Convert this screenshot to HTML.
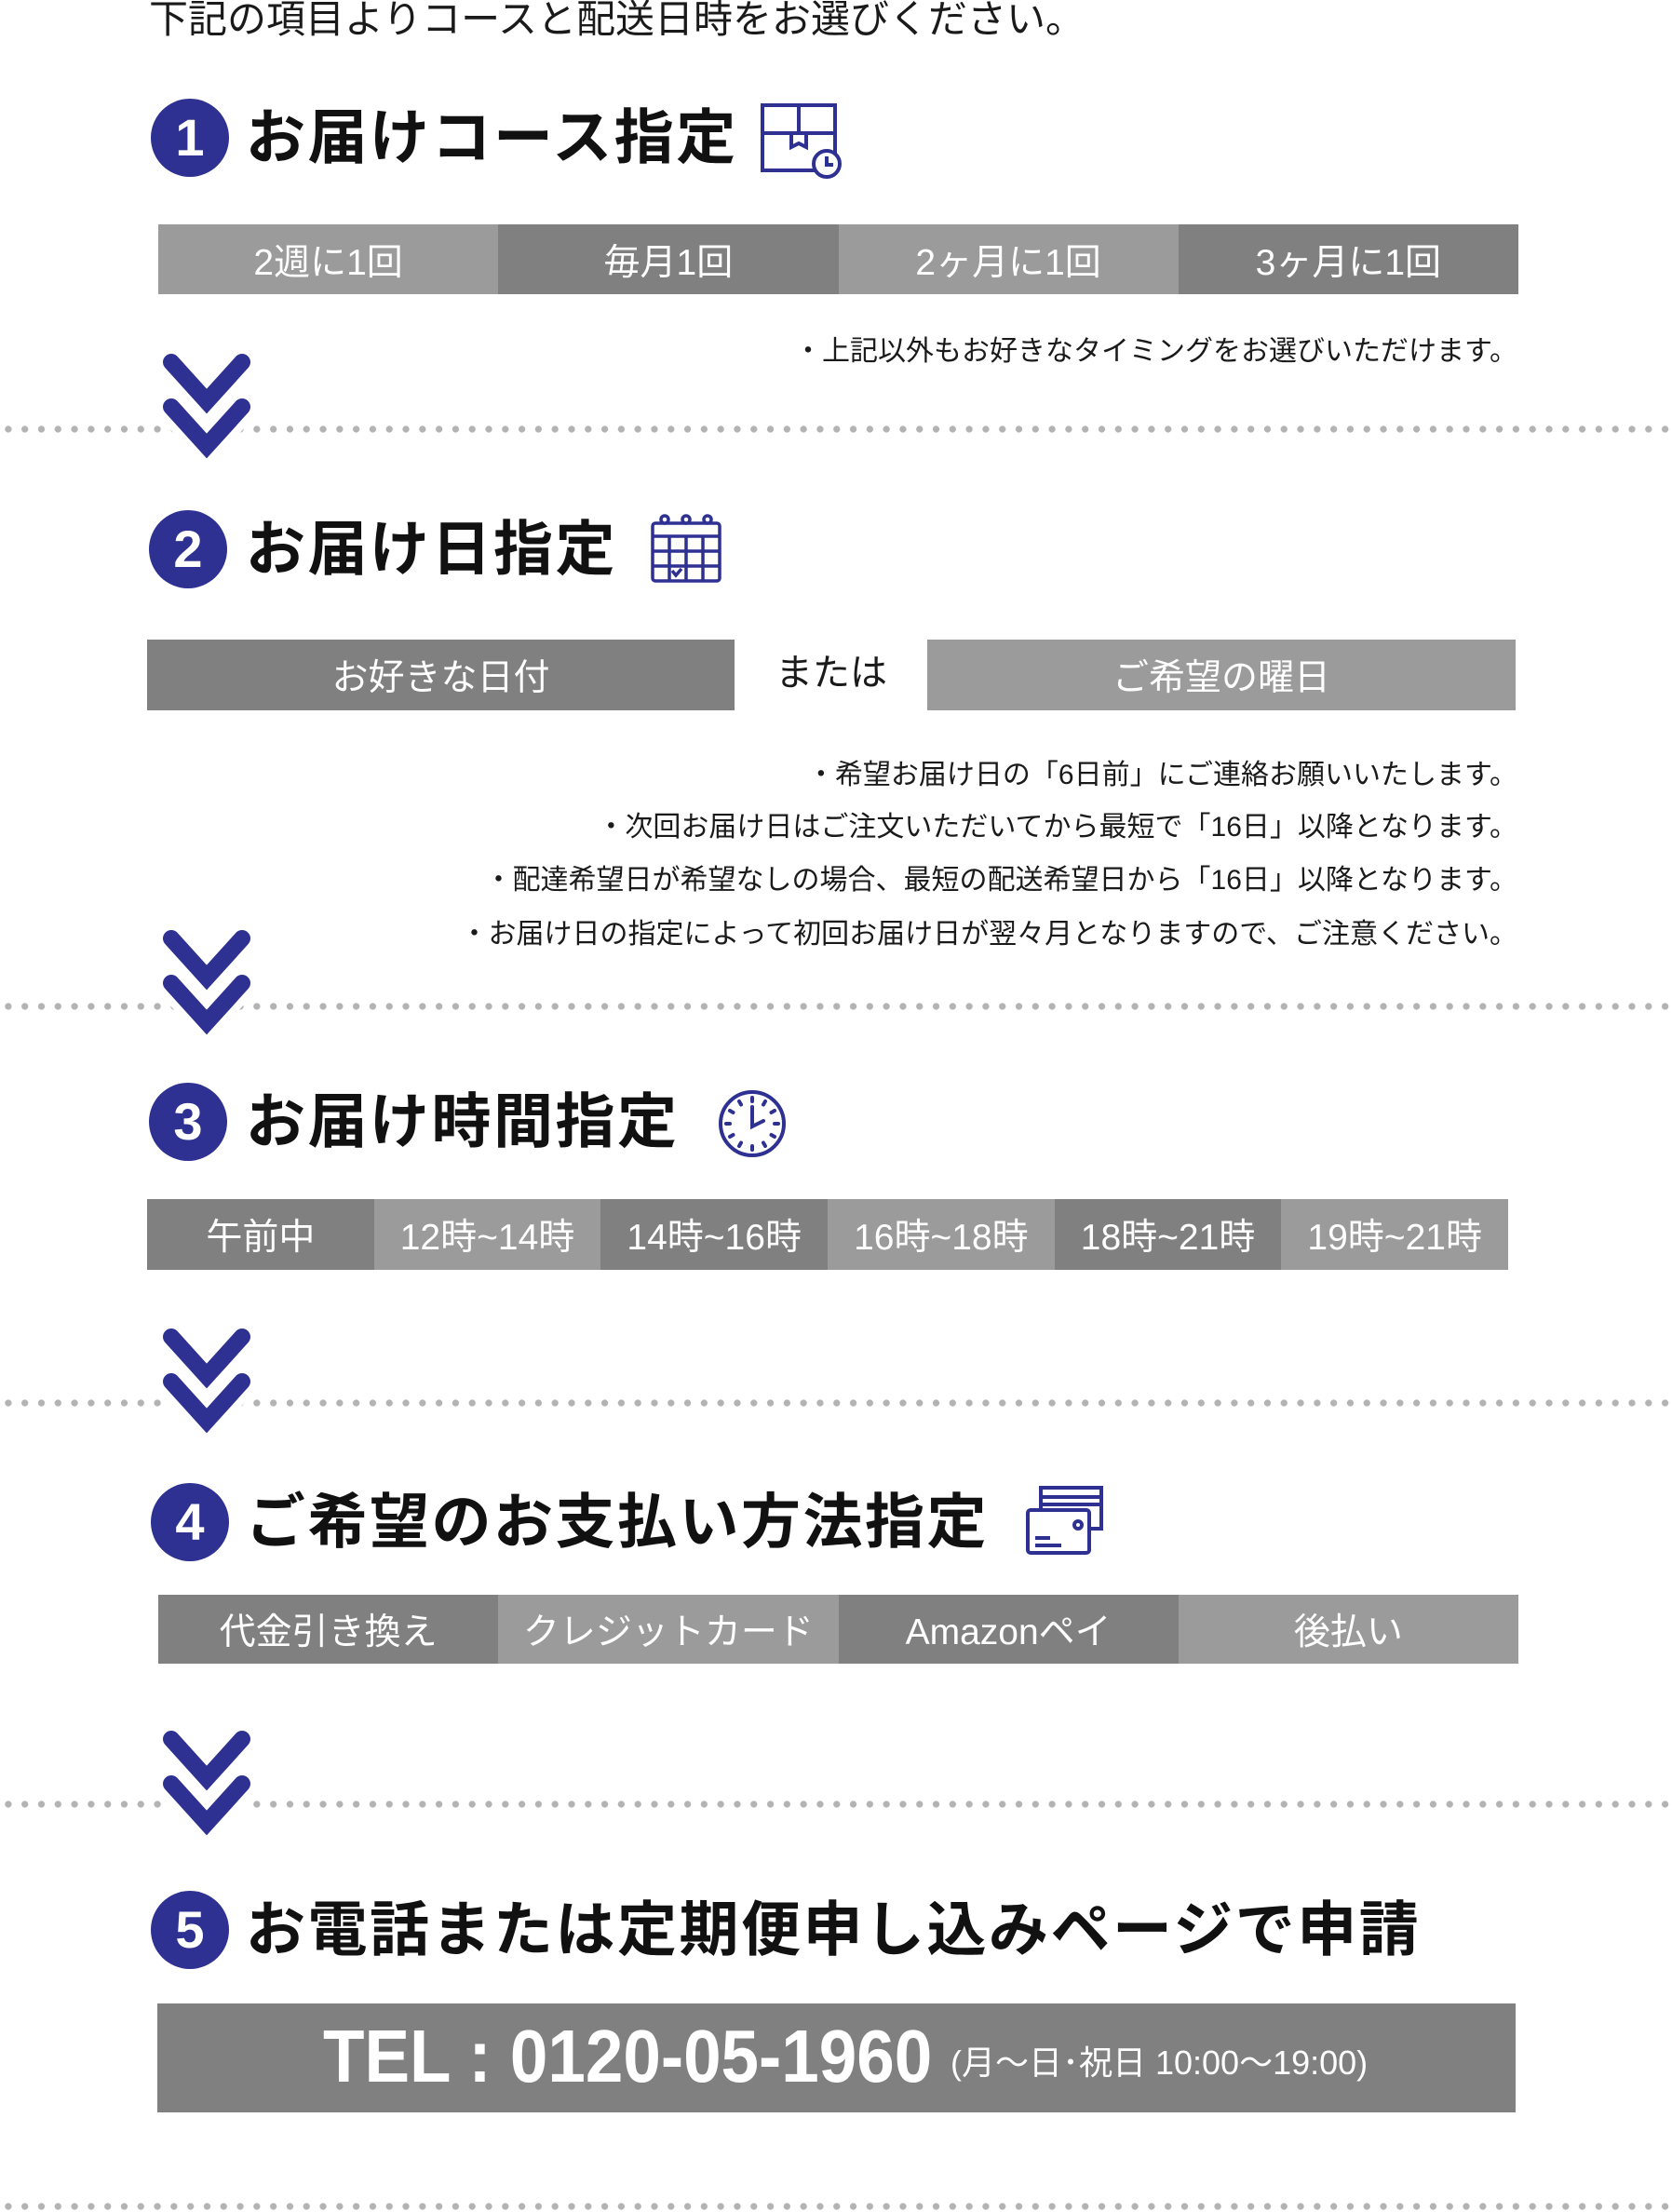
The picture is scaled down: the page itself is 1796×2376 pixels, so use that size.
<!DOCTYPE html>
<html><head><meta charset="utf-8"><style>
*{margin:0;padding:0;box-sizing:border-box}
body{width:1796px;height:2376px;background:#fff;position:relative;overflow:hidden;font-family:"Liberation Sans","Noto Sans CJK JP",sans-serif;color:#1a1a1a}
.a{position:absolute}
.dots{position:absolute;left:0;width:1796px;height:10px;background-image:radial-gradient(circle,#b3b3b3 3.3px,transparent 3.9px);background-size:17.8px 10px;background-repeat:repeat-x}
.circ{position:absolute;width:84px;height:84px;border-radius:50%;background:#2e3192;color:#fff;font-size:56px;font-weight:bold;text-align:center;line-height:84px}
.h{position:absolute;left:264px;font-size:64px;font-weight:bold;line-height:84px;white-space:nowrap;letter-spacing:2.5px;color:#111}
.bar{position:absolute;display:flex}
.bar div{flex:1;color:#fff;text-align:center;font-size:39px;display:flex;align-items:center;justify-content:center;white-space:nowrap}
.l{background:#9b9b9b}.d{background:#808080}
.note{position:absolute;right:166px;font-size:30px;white-space:nowrap;text-align:right;line-height:40px}
</style></head><body>
<div class="a" style="left:160px;top:-6px;font-size:42px;line-height:54px">下記の項目よりコースと配送日時をお選びください。</div>

<!-- 1 -->
<div class="circ" style="left:162px;top:106px">1</div>
<div class="h" style="top:106px">お届けコース指定</div>
<svg class="a" style="left:815px;top:108px" width="95" height="90" viewBox="0 0 95 90"><g fill="none" stroke="#2e3192" stroke-width="4"><rect x="4" y="5" width="78" height="70"/><line x1="4" y1="35" x2="82" y2="35"/><line x1="43" y1="5" x2="43" y2="35"/><polyline points="35,35 35,50 43,46 51,50 51,35"/><circle cx="73" cy="68" r="14" fill="#fff"/><polyline points="73,60 73,69 80,69"/></g></svg>
<div class="bar" style="left:170px;top:241px;width:1461px;height:75px"><div class="l">2週に1回</div><div class="d">毎月1回</div><div class="l">2ヶ月に1回</div><div class="d">3ヶ月に1回</div></div>
<div class="note" style="top:358px;right:166px">・上記以外もお好きなタイミングをお選びいただけます。</div>
<div class="dots" style="top:456px"></div>

<!-- 2 -->
<div class="circ" style="left:160px;top:548px">2</div>
<div class="h" style="top:548px">お届け日指定</div>
<svg class="a" style="left:695px;top:550px" width="90" height="80" viewBox="0 0 90 80"><g fill="none" stroke="#2e3192" stroke-width="3.5"><rect x="6" y="12" width="72" height="62" rx="3"/><line x1="6" y1="26" x2="78" y2="26"/><line x1="6" y1="42" x2="78" y2="42"/><line x1="6" y1="58" x2="78" y2="58"/><line x1="24" y1="26" x2="24" y2="74"/><line x1="42" y1="26" x2="42" y2="74"/><line x1="60" y1="26" x2="60" y2="74"/><circle cx="19" cy="8" r="4" fill="#fff"/><circle cx="42" cy="8" r="4" fill="#fff"/><circle cx="65" cy="8" r="4" fill="#fff"/><polyline points="27,63 31,68 37,61"/></g></svg>
<div class="bar" style="left:158px;top:687px;width:631px;height:76px"><div class="d">お好きな日付</div></div>
<div class="a" style="left:820px;top:698px;width:146px;text-align:center;font-size:40px;line-height:50px">または</div>
<div class="bar" style="left:996px;top:687px;width:632px;height:76px"><div class="l">ご希望の曜日</div></div>
<div class="note" style="top:813px">・希望お届け日の「6日前」にご連絡お願いいたします。</div>
<div class="note" style="top:869px">・次回お届け日はご注文いただいてから最短で「16日」以降となります。</div>
<div class="note" style="top:926px">・配達希望日が希望なしの場合、最短の配送希望日から「16日」以降となります。</div>
<div class="note" style="top:984px">・お届け日の指定によって初回お届け日が翌々月となりますので、ご注意ください。</div>
<div class="dots" style="top:1076px"></div>

<!-- 3 -->
<div class="circ" style="left:160px;top:1163px">3</div>
<div class="h" style="top:1163px">お届け時間指定</div>
<svg class="a" style="left:770px;top:1169px" width="78" height="78" viewBox="0 0 78 78"><g fill="none" stroke="#2e3192" stroke-width="4" stroke-linecap="round"><circle cx="38" cy="38" r="34"/><polyline points="38,20 38,41 50,35"/><line x1="38" y1="10" x2="38" y2="14"/><line x1="38" y1="62" x2="38" y2="66"/><line x1="10" y1="38" x2="14" y2="38"/><line x1="62" y1="38" x2="66" y2="38"/><line x1="24" y1="14" x2="26" y2="17.5"/><line x1="52" y1="14" x2="50" y2="17.5"/><line x1="24" y1="62" x2="26" y2="58.5"/><line x1="52" y1="62" x2="50" y2="58.5"/><line x1="14" y1="24" x2="17.5" y2="26"/><line x1="62" y1="24" x2="58.5" y2="26"/><line x1="14" y1="52" x2="17.5" y2="50"/><line x1="62" y1="52" x2="58.5" y2="50"/></g></svg>
<div class="bar" style="left:158px;top:1288px;width:1462px;height:76px"><div class="d">午前中</div><div class="l">12時~14時</div><div class="d">14時~16時</div><div class="l">16時~18時</div><div class="d">18時~21時</div><div class="l">19時~21時</div></div>
<div class="dots" style="top:1502px"></div>

<!-- 4 -->
<div class="circ" style="left:162px;top:1593px">4</div>
<div class="h" style="top:1593px">ご希望のお支払い方法指定</div>
<svg class="a" style="left:1100px;top:1594px" width="90" height="80" viewBox="0 0 90 80"><g fill="none" stroke="#2e3192" stroke-width="4"><path d="M18,26 V4 H83 V48 H70"/><line x1="18" y1="14" x2="83" y2="14"/><line x1="18" y1="22" x2="83" y2="22"/><rect x="4" y="28" width="66" height="46" rx="3" fill="#fff"/><line x1="12" y1="58" x2="28" y2="58"/><line x1="12" y1="66" x2="40" y2="66"/><circle cx="58" cy="44" r="4"/></g></svg>
<div class="bar" style="left:170px;top:1713px;width:1461px;height:74px"><div class="d">代金引き換え</div><div class="l">クレジットカード</div><div class="d">Amazonペイ</div><div class="l">後払い</div></div>
<div class="dots" style="top:1933px"></div>

<!-- 5 -->
<div class="circ" style="left:162px;top:2031px">5</div>
<div class="h" style="top:2031px">お電話または定期便申し込みページで申請</div>
<div class="a" style="left:169px;top:2152px;width:1459px;height:117px;background:#808080;color:#fff;white-space:nowrap">
<span class="a" style="left:178px;top:12px;font-size:80px;font-weight:bold;line-height:90px;transform:scaleX(0.91);transform-origin:left center">TEL : 0120-05-1960</span>
<span class="a" style="left:852px;top:44px;font-size:36px;line-height:40px">(月〜日･祝日 10:00〜19:00)</span>
</div>
<div class="dots" style="top:2365px"></div>

<!-- chevrons -->
<svg class="a" style="left:0;top:0" width="1796" height="2376" viewBox="0 0 1796 2376">
<defs><g id="cv"><polyline points="-38,0 0,42 38,0" fill="none" stroke="#fff" stroke-width="34" stroke-linejoin="round"/><polyline points="-38,0 0,42 38,0" fill="none" stroke="#2e3192" stroke-width="18" stroke-linecap="round" stroke-linejoin="miter"/></g></defs>
<g transform="translate(222,389)"><use href="#cv"/><use href="#cv" y="48"/></g>
<g transform="translate(222,1008)"><use href="#cv"/><use href="#cv" y="48"/></g>
<g transform="translate(222,1436)"><use href="#cv"/><use href="#cv" y="48"/></g>
<g transform="translate(222,1868)"><use href="#cv"/><use href="#cv" y="48"/></g>
</svg>
</body></html>
